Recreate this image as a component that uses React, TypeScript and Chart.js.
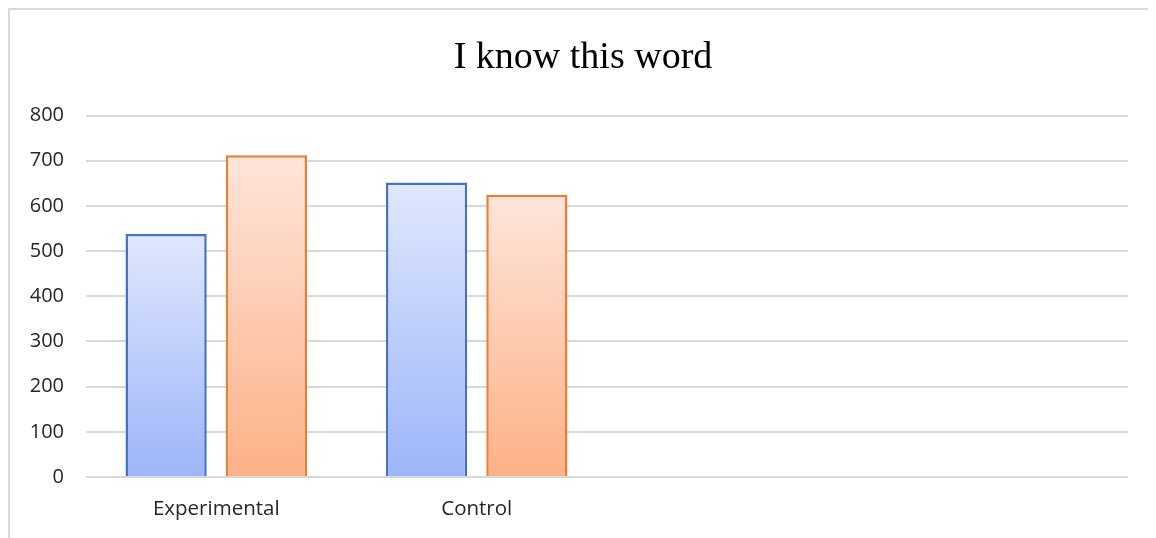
import React, { useEffect, useRef } from "react";
import { Chart, registerables } from "chart.js";

Chart.register(...registerables);

const categories = ["Experimental", "Control", "", ""];
const seriesA = [538, 652, null, null];
const seriesB = [712, 625, null, null];
const yTicks = [0, 100, 200, 300, 400, 500, 600, 700, 800];
const titleText = "I know this word";

function makeGradient(top: string, bottom: string) {
  return (ctx: any) => {
    const chart = ctx.chart;
    const area = chart.chartArea;
    if (!area || ctx.type !== "data" || ctx.parsed == null) return bottom;
    const y = chart.scales.y;
    const yTop = y.getPixelForValue(ctx.parsed.y);
    const yBase = y.getPixelForValue(0);
    if (!isFinite(yTop) || !isFinite(yBase) || yTop === yBase) return bottom;
    const g = chart.ctx.createLinearGradient(0, yTop, 0, yBase);
    g.addColorStop(0, top);
    g.addColorStop(1, bottom);
    return g;
  };
}

export default function App() {
  const ref = useRef<HTMLCanvasElement | null>(null);
  useEffect(() => {
    if (!ref.current) return;
    const chart = new Chart(ref.current, {
      type: "bar",
      data: {
        labels: categories,
        datasets: [
          {
            label: "A",
            data: seriesA,
            backgroundColor: makeGradient("#e0e8fd", "#9db5fa"),
            borderColor: "#4472c4",
            borderWidth: 2.5,
            borderSkipped: "bottom",
          },
          {
            label: "B",
            data: seriesB,
            backgroundColor: makeGradient("#fee5da", "#fdb187"),
            borderColor: "#ed7d31",
            borderWidth: 2.5,
            borderSkipped: "bottom",
          },
        ],
      },
      options: {
        animation: false,
        responsive: false,
        devicePixelRatio: 1,
        layout: { padding: { left: 0, right: 0, top: 0, bottom: 0 } },
        datasets: { bar: { categoryPercentage: 0.77, barPercentage: 0.81 } },
        plugins: {
          legend: { display: false },
          tooltip: { enabled: false },
          title: {
            display: true,
            text: titleText,
            color: "#000000",
            font: { family: "'Liberation Serif', 'DejaVu Serif', serif", size: 38, weight: "normal", lineHeight: 1.2 },
            padding: { top: 25, bottom: 35 },
          },
        },
        scales: {
          x: {
            grid: { display: false, drawTicks: false },
            border: { display: false },
            ticks: {
              color: "#262626",
              font: { family: "'Open Sans', 'Noto Sans', sans-serif", size: 20.5 },
              padding: 20,
            },
            afterFit: (s: any) => {
              s.height = 61;
            },
          },
          y: {
            min: 0,
            max: 800,
            afterBuildTicks: (s: any) => {
              s.ticks = yTicks.map((v) => ({ value: v }));
            },
            grid: { color: "#d9d9d9", lineWidth: 2, drawTicks: false },
            border: { display: false },
            ticks: {
              color: "#262626",
              font: { family: "'Open Sans', 'Noto Sans', sans-serif", size: 20 },
              padding: 22,
            },
            afterFit: (s: any) => {
              s.width = 76;
            },
          },
          yRight: {
            type: "linear",
            position: "right",
            display: true,
            grid: { display: false, drawTicks: false },
            border: { display: false },
            ticks: { display: false },
            afterFit: (s: any) => {
              s.width = 28;
            },
          },
        },
      },
    });
    return () => chart.destroy();
  }, []);
  return (
    <div
      style={{
        width: 1148,
        height: 530,
        boxSizing: "border-box",
        borderTop: "2px solid #d9d9d9",
        borderLeft: "2px solid #d9d9d9",
        overflow: "hidden",
      }}
    >
      <canvas ref={ref} width={1146} height={528} style={{ display: "block" }} />
    </div>
  );
}
